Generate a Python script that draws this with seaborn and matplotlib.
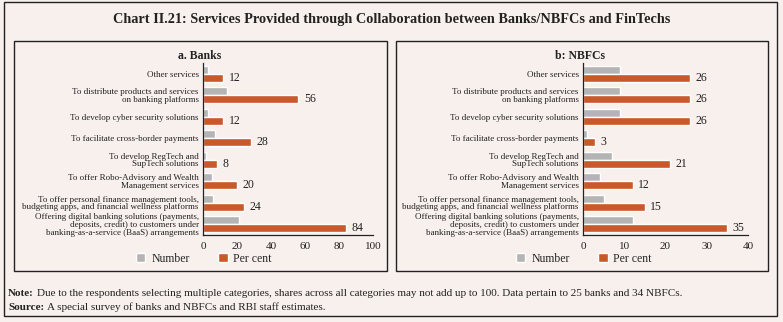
import matplotlib
matplotlib.use("Agg")
import matplotlib.pyplot as plt
import seaborn as sns
import pandas as pd
import numpy as np
from matplotlib.patches import Rectangle

categories = [
    "Other services",
    "To distribute products and services\non banking platforms",
    "To develop cyber security solutions",
    "To facilitate cross-border payments",
    "To develop RegTech and\nSupTech solutions",
    "To offer Robo-Advisory and Wealth\nManagement services",
    "To offer personal finance management tools,\nbudgeting apps, and financial wellness platforms",
    "Offering digital banking solutions (payments,\ndeposits, credit) to customers under\nbanking-as-a-service (BaaS) arrangements",
]
banks_number = [3, 14, 3, 7, 2, 5, 6, 21]
banks_percent = [12, 56, 12, 28, 8, 20, 24, 84]
nbfcs_number = [9, 9, 9, 1, 7, 4, 5, 12]
nbfcs_percent = [26, 26, 26, 3, 21, 12, 15, 35]
series_names = ["Number", "Per cent"]

BG = "#f8f0ec"
GREY = "#b4b4b4"
ORANGE = "#c9582b"
SERIF = ["Liberation Serif", "DejaVu Serif"]

sns.set_style("white")
plt.rcParams["font.family"] = SERIF

W, H = 783, 322
fig = plt.figure(figsize=(W / 100, H / 100), dpi=100, facecolor=BG)


def fx(x):
    return x / W


def fy(y):
    return 1 - y / H


# outer border
fig.patches.append(Rectangle((fx(4), fy(316)), fx(773), (316 - 2) / H, transform=fig.transFigure,
                             fill=False, edgecolor="#222222", lw=1.0))
# panel borders
fig.patches.append(Rectangle((fx(14), fy(271)), fx(373), (271 - 41) / H, transform=fig.transFigure,
                             fill=False, edgecolor="#222222", lw=1.0))
fig.patches.append(Rectangle((fx(396), fy(271)), fx(372), (271 - 41) / H, transform=fig.transFigure,
                             fill=False, edgecolor="#222222", lw=1.0))

fig.text(0.5, fy(19), "Chart II.21: Services Provided through Collaboration between Banks/NBFCs and FinTechs",
         ha="center", va="center", fontsize=10.3, fontweight="bold", family=SERIF, color="#222222")


def make_panel(x0, x1, title, number, percent, xmax, xticks, title_x, legend_x):
    ax = fig.add_axes([fx(x0), fy(235), fx(x1 - x0), (235 - 63) / H])
    ax.set_facecolor(BG)
    df = pd.DataFrame({
        "cat": categories * 2,
        "series": [series_names[0]] * len(categories) + [series_names[1]] * len(categories),
        "value": list(number) + list(percent),
    })
    sns.barplot(data=df, y="cat", x="value", hue="series", order=categories,
                hue_order=series_names, palette=[GREY, ORANGE], orient="h",
                width=0.74, ax=ax, legend=False, saturation=1)
    for cont, name in zip(ax.containers, series_names):
        if name == "Per cent":
            ax.bar_label(cont, labels=[str(v) for v in percent], padding=4, fontsize=8.5,
                         color="#222222", family=SERIF)
    ax.set_xlim(0, xmax)
    ax.set_xticks(xticks)
    ax.set_xticklabels([str(t) for t in xticks], fontsize=8, color="#222222")
    ax.set_ylim(len(categories) - 0.5, -0.5)
    ax.tick_params(axis="y", length=0, labelsize=6.5, colors="#222222", pad=3)
    ax.tick_params(axis="x", length=3, width=0.8, colors="#222222", pad=2)
    ax.set_yticks(range(len(categories)))
    ax.set_yticklabels(categories, fontsize=6.5, linespacing=0.95)
    ax.set_yticks(np.arange(-0.5, len(categories), 1.0), minor=True)
    ax.tick_params(axis="y", which="minor", length=4, width=0.8, color="#222222")
    ax.set_xlabel("")
    ax.set_ylabel("")
    for s in ["top", "right"]:
        ax.spines[s].set_visible(False)
    for s in ["left", "bottom"]:
        ax.spines[s].set_color("#222222")
        ax.spines[s].set_linewidth(0.9)
    fig.text(fx(title_x), fy(56), title, ha="center", va="center", fontsize=8.5,
             fontweight="bold", family=SERIF, color="#222222")
    handles = [Rectangle((0, 0), 1, 1, facecolor=GREY), Rectangle((0, 0), 1, 1, facecolor=ORANGE)]
    fig.legend(handles, series_names, loc="center", bbox_to_anchor=(fx(legend_x), fy(259)),
               ncol=2, frameon=False, handlelength=0.8, handleheight=0.8,
               columnspacing=2.4, handletextpad=0.5, prop={"family": SERIF, "size": 8.5})
    return ax


make_panel(203, 373, "a. Banks", banks_number, banks_percent, 100, [0, 20, 40, 60, 80, 100], 200, 204)
make_panel(583, 748, "b: NBFCs", nbfcs_number, nbfcs_percent, 40, [0, 10, 20, 30, 40], 580, 584)

renderer = fig.canvas.get_renderer()


def note_line(y, bold, rest):
    t = fig.text(fx(8), fy(y), bold, ha="left", va="center", fontsize=8, fontweight="bold",
                 family=SERIF, color="#222222")
    bb = t.get_window_extent(renderer=renderer)
    fig.text(bb.x1 / W + fx(3), fy(y), rest, ha="left", va="center", fontsize=8,
             family=SERIF, color="#222222")


note_line(293, "Note:", "Due to the respondents selecting multiple categories, shares across all categories may not add up to 100. Data pertain to 25 banks and 34 NBFCs.")
note_line(307, "Source:", "A special survey of banks and NBFCs and RBI staff estimates.")

fig.savefig("out.png", dpi=100, facecolor=BG)
